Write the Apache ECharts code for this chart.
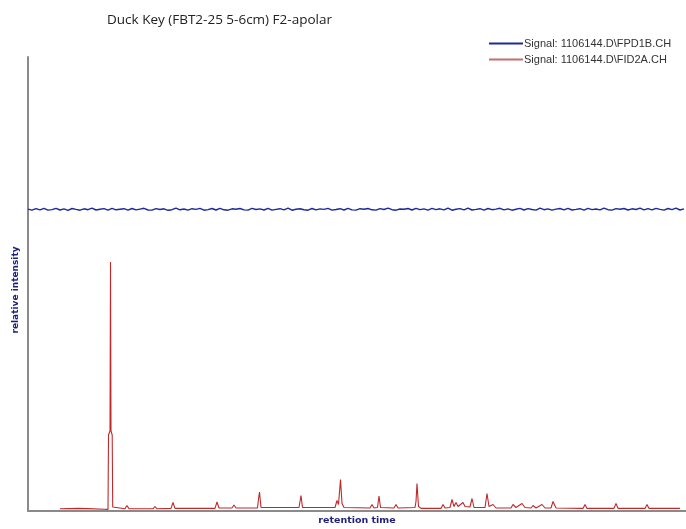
<!DOCTYPE html>
<html>
<head>
<meta charset="utf-8">
<script src="https://cdn.jsdelivr.net/npm/echarts@6/dist/echarts.min.js"></script>
<style>html,body{margin:0;padding:0;background:#fff;}#chart{width:686px;height:529px;}</style>
</head>
<body>
<div id="chart"></div>
<script>
const chartTitle = "Duck Key (FBT2-25 5-6cm) F2-apolar";
const seriesNames = ["Signal: 1106144.D\\FPD1B.CH", "Signal: 1106144.D\\FID2A.CH"];
const xAxisName = "retention time";
const yAxisName = "relative intensity";

// FPD1B trace: sample start / step (min) and intensity values
const fpdStart = 0;
const fpdStep = 0.4;
const fpdValues = [
301.9,300.8,302.3,301.1,302.6,300.9,301.4,302.7,301.0,302.1,300.7,302.5,301.6,300.8,302.2,301.3,302.8,301.0,301.7,302.4,
300.9,302.6,301.2,301.8,302.3,300.8,302.5,301.1,301.9,302.7,301.0,300.9,302.4,301.5,302.2,300.7,301.3,302.8,301.2,302.0,
300.9,302.3,301.6,302.6,300.8,301.4,302.5,301.0,302.7,301.2,300.8,302.2,301.7,302.5,301.1,300.9,302.6,301.5,302.1,301.0,
302.7,300.9,301.6,302.3,301.2,302.8,300.8,301.8,302.2,301.3,300.8,302.5,301.1,302.1,301.6,302.7,300.9,301.5,302.3,301.0,
302.6,301.1,300.9,302.3,301.8,302.5,301.2,300.9,302.4,301.5,302.8,301.3,300.8,302.0,301.7,302.5,301.0,302.7,301.4,302.1,
300.9,302.6,301.4,302.2,301.1,302.8,300.8,301.8,302.4,301.2,302.9,301.0,301.6,302.3,300.9,302.5,301.3,301.9,302.7,301.1,
302.2,300.8,301.7,302.6,301.0,302.4,301.5,300.9,302.8,301.3,302.1,300.8,301.9,302.5,301.2,302.7,301.0,301.6,302.3,300.9,
302.6,301.4,302.0,301.1,302.8,301.3,300.9,302.4,301.7,302.5,301.0,302.2,301.5,302.9,301.2,302.4,301.1,302.7,301.6,300.9,
302.5,301.3,302.8,301.0,302.2
];

// FID2A trace: [retention time, intensity]
const fidPoints = [
[3.2,2.2],[5.0,2.6],[6.0,2.4],[7.6,1.8],[8.0,1.6],
[8.05,76],[8.2,80],[8.25,249],[8.3,80],[8.42,76],[8.47,4],[8.6,2.2],
[9.7,2.2],[9.9,5.5],[10.1,2.2],
[12.5,2.2],[12.7,4.5],[12.9,2.2],
[14.3,2.6],[14.5,8.5],[14.7,2.6],
[18.7,2.6],[18.9,9],[19.1,3],
[20.4,3],[20.6,6],[20.8,3],
[22.95,3],[23.05,12],[23.15,19],[23.3,3.5],
[27.1,3.5],[27.3,15.5],[27.45,3.5],
[30.7,3.5],[30.9,10.5],[31.05,6.5],[31.25,31.5],[31.4,7.5],[31.6,3.5],
[34.2,3],[34.4,6.5],[34.6,3],
[34.95,3.5],[35.1,15],[35.25,3.5],
[36.6,3],[36.8,6.5],[37.0,3],
[38.7,3.5],[38.8,9.5],[38.9,27.5],[39.05,4.5],[39.3,2.6],
[41.3,2.6],[41.5,6.5],[41.7,3],
[42.2,3.5],[42.4,11.5],[42.6,4.5],[42.8,8.5],[43.0,4.5],[43.5,8.5],[43.7,4.5],[44.2,4],[44.4,12.5],[44.6,3.5],
[45.7,3.5],[45.9,17.5],[46.1,4.5],[46.5,6.5],[46.8,3],
[48.3,3],[48.5,6.5],[48.8,3.5],[49.4,7.5],[49.7,3.5],
[50.3,3],[50.5,5.5],[50.8,3],[51.4,6.5],[51.7,3],
[52.3,3],[52.5,9.5],[52.8,3],
[55.5,2.6],[55.7,6.5],[55.9,2.6],
[58.6,2.6],[58.8,7.5],[59.0,2.6],
[61.7,2.6],[61.9,6.5],[62.1,2.6],
[64.5,2.6],[64.7,4.5],[64.9,2.6],[65.2,2.6]
];

const fpdData = fpdValues.map((v, i) => [fpdStart + i * fpdStep, v]);

const chart = echarts.init(document.getElementById('chart'));
chart.setOption({
  animation: false,
  backgroundColor: '#ffffff',
  title: {
    text: chartTitle,
    left: 102, top: 8,
    textStyle: { fontFamily: 'Open Sans', fontSize: 13.5, fontWeight: 'normal', color: '#222' }
  },
  legend: {
    orient: 'vertical',
    left: 484, top: 33,
    itemWidth: 34, itemHeight: 2, itemGap: 5,
    icon: 'rect',
    textStyle: { fontFamily: 'Liberation Sans', fontSize: 11, color: '#333', padding: [0,0,0,-4] },
    data: seriesNames
  },
  grid: { left: 28, right: 0, top: 57, bottom: 18, outerBoundsMode: 'none', containLabel: false },
  xAxis: {
    type: 'value', min: 0, max: 65.8,
    name: xAxisName, nameLocation: 'middle', nameGap: 5,
    nameTextStyle: { fontFamily: 'DejaVu Sans', fontSize: 9.5, fontWeight: 'bold', color: '#1f1f7a' },
    axisLine: { show: true, lineStyle: { color: '#8a8a8a', width: 2 } },
    axisTick: { show: false }, axisLabel: { show: false }, splitLine: { show: false }
  },
  yAxis: {
    type: 'value', min: 0, max: 454,
    name: yAxisName, nameLocation: 'middle', nameGap: 8, nameRotate: 90,
    nameTextStyle: { fontFamily: 'DejaVu Sans', fontSize: 9, fontWeight: 'bold', color: '#1f1f7a', padding: [0,0,0,-12] },
    axisLine: { show: true, lineStyle: { color: '#8a8a8a', width: 2 } },
    axisTick: { show: false }, axisLabel: { show: false }, splitLine: { show: false }
  },
  series: [
    {
      name: seriesNames[0], type: 'line', data: fpdData,
      showSymbol: false, symbol: 'none',
      lineStyle: { color: '#1c2a9a', width: 1.4 },
      itemStyle: { color: '#1c2a9a' }
    },
    {
      name: seriesNames[1], type: 'line', data: fidPoints,
      showSymbol: false, symbol: 'none',
      lineStyle: { color: '#c0282a', width: 1.1 },
      itemStyle: { color: '#c07070' }
    }
  ]
});
</script>
</body>
</html>
